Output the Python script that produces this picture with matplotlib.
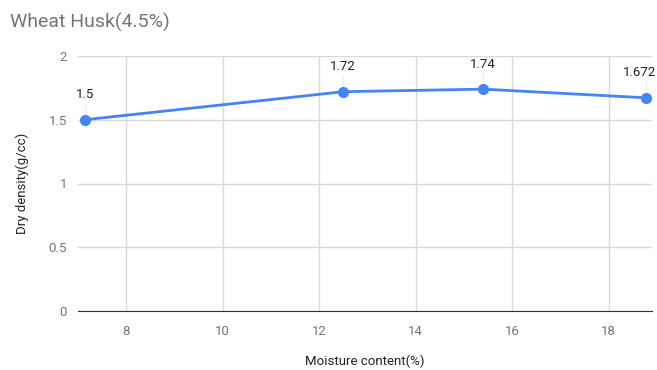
import matplotlib
matplotlib.use("Agg")
import matplotlib.pyplot as plt

plt.rcParams["font.family"] = ["Roboto", "DejaVu Sans"]

# Data
moisture = [7.14, 12.5, 15.4, 18.78]
density = [1.5, 1.72, 1.74, 1.672]
point_labels = ["1.5", "1.72", "1.74", "1.672"]
x_ticks = [8, 10, 12, 14, 16, 18]
y_ticks = [0, 0.5, 1, 1.5, 2]
y_tick_labels = ["0", "0.5", "1", "1.5", "2"]

blue = "#4285F4"
grid = "#d9d9d9"
gray = "#757575"

fig = plt.figure(figsize=(6.57, 3.70), dpi=100)
ax = fig.add_axes([78 / 657, 1 - 311 / 370, (652 - 78) / 657, (311 - 56) / 370])

ax.plot(moisture, density, color=blue, linewidth=2, marker="o", markersize=7, zorder=3, clip_on=False)

# label shifts in pixels (last one nudged left to stay inside the figure)
shifts = [0, 0, 0, -7]
for x, y, lab, dx in zip(moisture, density, point_labels, shifts):
    ax.plot([x, x], [y + 0.04, y + 0.13], color="#eeeeee", linewidth=1, zorder=2)
    ax.annotate(lab, (x, y), xytext=(dx * 0.72, 18), textcoords="offset points", ha="center", va="center",
                fontsize=9.5, color="#222222")

ax.set_xlim(7.0, 18.9)
ax.set_ylim(0, 2)
ax.set_xticks(x_ticks)
ax.set_yticks(y_ticks)
ax.set_yticklabels(y_tick_labels)
ax.grid(True, color=grid, linewidth=1)
ax.set_axisbelow(True)
for side in ["top", "right", "left"]:
    ax.spines[side].set_visible(False)
ax.spines["bottom"].set_color("#333333")
ax.tick_params(axis="both", length=0, colors=gray, labelsize=9.5)
ax.tick_params(axis="x", pad=10)
ax.tick_params(axis="y", pad=8)

ax.set_xlabel("Moisture content(%)", fontsize=9.5, color="#222222", labelpad=12)
ax.set_ylabel("Dry density(g/cc)", fontsize=9.5, color="#222222", labelpad=14)

fig.text(10 / 657, 1 - 22 / 370, "Wheat Husk(4.5%)", fontsize=14, color=gray, va="center", ha="left")

fig.savefig("out.png", dpi=100)
